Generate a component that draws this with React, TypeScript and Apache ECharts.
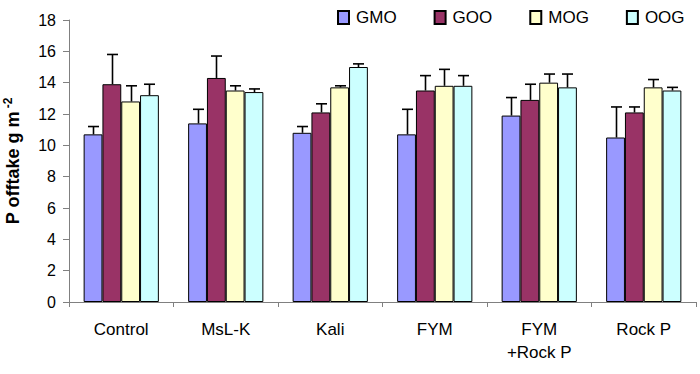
import React, { useEffect, useRef } from "react";
import * as echarts from "echarts";

const categories = ["Control", "MsL-K", "Kali", "FYM", "FYM\n+Rock P", "Rock P"];
const seriesNames = ["GMO", "GOO", "MOG", "OOG"];
const colors = ["#9999FF", "#993366", "#FFFFCC", "#CCFFFF"];
const gmo = [10.7, 11.4, 10.8, 10.7, 11.9, 10.5];
const goo = [13.9, 14.3, 12.1, 13.5, 12.9, 12.1];
const mog = [12.8, 13.5, 13.7, 13.8, 14.0, 13.7];
const oog = [13.2, 13.4, 15.0, 13.8, 13.7, 13.5];
const gmoErr = [11.2, 12.3, 11.2, 12.3, 13.05, 12.45];
const gooErr = [15.8, 15.7, 12.65, 14.45, 13.9, 12.45];
const mogErr = [13.8, 13.8, 13.8, 14.85, 14.55, 14.2];
const oogErr = [13.9, 13.6, 15.2, 14.45, 14.55, 13.7];

const values = [gmo, goo, mog, oog];
const errs = [gmoErr, gooErr, mogErr, oogErr];
const GAP = 0.28;
const FONT = "'Liberation Sans', Arial, sans-serif";

export default function App() {
  const ref = useRef<HTMLDivElement>(null);
  useEffect(() => {
    if (!ref.current) return;
    const chart = echarts.init(ref.current, null, { renderer: "svg" });
    const bars = seriesNames.map((n, i) => ({
      name: n,
      type: "bar",
      data: values[i],
      barGap: "0%",
      barCategoryGap: GAP * 100 + "%",
      itemStyle: { color: colors[i], borderColor: "#000", borderWidth: 1 },
      z: 2,
    }));
    const errSeries = seriesNames.map((n, i) => ({
      name: n + "_err",
      type: "custom",
      z: 3,
      data: values[i].map((v, k) => [k, v, errs[i][k]]),
      encode: { x: 0, y: [1, 2] },
      renderItem: (params: any, api: any) => {
        const cat = api.value(0);
        const base = api.coord([cat, api.value(1)]);
        const top = api.coord([cat, api.value(2)]);
        const band = api.size([1, 0])[0];
        const bw = (band * (1 - GAP)) / 4;
        const x = Math.round(base[0] + (i - 1.5) * bw) + 0.5;
        const cap = 5.5;
        const style = { stroke: "#000", lineWidth: 1.6 };
        return {
          type: "group",
          children: [
            { type: "line", shape: { x1: x, y1: base[1], x2: x, y2: top[1] }, style },
            { type: "line", shape: { x1: x - cap, y1: top[1], x2: x + cap, y2: top[1] }, style },
          ],
        };
      },
    }));
    chart.setOption({
      animation: false,
      textStyle: { fontFamily: FONT, color: "#000" },
      legend: {
        data: seriesNames,
        left: 337,
        top: 9,
        padding: 0,
        itemWidth: 11,
        itemHeight: 13,
        itemGap: 37,
        icon: "rect",
        textStyle: { fontFamily: FONT, fontSize: 17, color: "#000", padding: [0, 0, 4, 2] },
      },
      grid: { left: 69, right: 4, top: 20, bottom: 72, containLabel: false, outerBoundsMode: "none" },
      xAxis: {
        type: "category",
        data: categories,
        axisLine: { lineStyle: { color: "#808080", width: 1 } },
        axisTick: { show: true, length: 5, lineStyle: { color: "#808080" } },
        axisLabel: { fontFamily: FONT, fontSize: 17, color: "#000", margin: 16, lineHeight: 23, interval: 0 },
      },
      yAxis: {
        type: "value",
        min: 0,
        max: 18,
        interval: 2,
        splitLine: { show: false },
        axisLine: { show: true, lineStyle: { color: "#808080", width: 1 } },
        axisTick: { show: true, length: 6, lineStyle: { color: "#808080" } },
        axisLabel: { fontFamily: FONT, fontSize: 16, color: "#000", margin: 13 },
        name: "P offtake g m{sup|-2}",
        nameLocation: "middle",
        nameGap: 45,
        nameRotate: 90,
        nameTextStyle: {
          fontFamily: FONT,
          fontSize: 18,
          fontWeight: "bold",
          color: "#000",
          rich: {
            sup: { fontFamily: FONT, fontSize: 12, fontWeight: "bold", color: "#000", verticalAlign: "top", padding: [0, 0, 10, 3] },
          },
        },
      },
      series: [...bars, ...errSeries],
    });
    return () => chart.dispose();
  }, []);
  return <div ref={ref} style={{ position: "absolute", left: 0, top: 0, width: 700, height: 374 }} />;
}
